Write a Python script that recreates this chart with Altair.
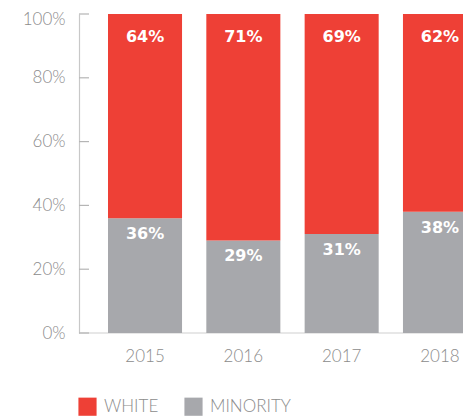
import altair as alt
import pandas as pd

years = ["2015", "2016", "2017", "2018"]
white = [64, 71, 69, 62]
minority = [36, 29, 31, 38]
groups = ["WHITE", "MINORITY"]
colors = ["#EE4036", "#A7A8AC"]
tick_values = [0, 20, 40, 60, 80, 100]

rows = []
for i, yr in enumerate(years):
    rows.append({"year": yr, "group": "MINORITY", "value": minority[i], "order": 0})
    rows.append({"year": yr, "group": "WHITE", "value": white[i], "order": 1})
df = pd.DataFrame(rows)
ticks_df = pd.DataFrame({"v": tick_values})

FONT = "Lato"
GREY_TXT = "#8C8C8C"
W = 384

xscale = alt.Scale(domain=years, range=[29, 398], paddingInner=0.247, paddingOuter=0)
yscale = alt.Scale(domain=[0, 100], nice=False)

base = alt.Chart(df).transform_stack(
    stack="value", groupby=["year"], as_=["y0", "y1"],
    sort=[alt.SortField("order", order="ascending")]
)

bars = base.mark_bar(clip=True).encode(
    x=alt.X("year:N", scale=xscale, sort=years,
            axis=alt.Axis(title=None, ticks=False, domain=False, labelAngle=0,
                          labelFont=FONT, labelFontSize=17, labelFontWeight=300,
                          labelColor=GREY_TXT, labelPadding=15, labelBound=False,
                          labelOverlap=False)),
    y=alt.Y("y0:Q", scale=yscale,
            axis=alt.Axis(title=None, values=tick_values, ticks=False, grid=False,
                          labelExpr="datum.value + '%'", labelFont=FONT,
                          labelFontSize=17, labelFontWeight=300, labelColor=GREY_TXT,
                          labelOffset={"condition": {"test": "datum.value == 100", "value": 5}, "value": 0},
                          labelPadding=14, domainColor="#C8C8C8", domainWidth=1.2)),
    y2="y1:Q",
    color=alt.Color("group:N", scale=alt.Scale(domain=groups, range=colors),
                    legend=alt.Legend(title=None, orient="none", legendX=-1, legendY=383,
                                      direction="horizontal", symbolType="square",
                                      symbolSize=330, symbolStrokeWidth=0,
                                      symbolOpacity=1,
                                      labelFont=FONT, labelFontSize=17,
                                      labelFontWeight=300, labelColor=GREY_TXT,
                                      labelOffset=7, columnPadding=25)),
)

text_white = base.transform_filter("datum.group == 'WHITE'").mark_text(
    baseline="top", dy=15, color="white", font="DejaVu Sans", fontWeight="bold",
    fontSize=16, clip=True
).encode(
    x=alt.X("year:N", scale=xscale, sort=years),
    y=alt.Y("y1:Q", scale=yscale),
    text=alt.Text("label:N"),
).transform_calculate(label="datum.value + '%'")

text_min = base.transform_filter("datum.group == 'MINORITY'").mark_text(
    baseline="top", dy=8, color="white", font="DejaVu Sans", fontWeight="bold",
    fontSize=16, clip=True
).encode(
    x=alt.X("year:N", scale=xscale, sort=years),
    y=alt.Y("y1:Q", scale=yscale),
    text=alt.Text("label:N"),
).transform_calculate(label="datum.value + '%'")

tick_rules = alt.Chart(ticks_df).mark_rule(color="#B5B5B5", strokeWidth=1.2).encode(
    y=alt.Y("v:Q", scale=yscale),
    x=alt.value(0),
    x2=alt.value(10),
)

baseline = alt.Chart(pd.DataFrame({"v": [0]})).mark_rule(color="#D0D0D0", strokeWidth=1.2).encode(
    y=alt.Y("v:Q", scale=yscale),
    x=alt.value(0),
    x2=alt.value(W),
)

chart = alt.layer(baseline, bars, tick_rules, text_white, text_min).properties(
    width=W, height=319,
    autosize=alt.AutoSizeParams(type="none"),
    padding={"left": 71, "top": 6, "right": 0, "bottom": 85},
).configure_view(stroke=None)

chart.save("out.html", embed_options={"renderer": "svg", "actions": False})
